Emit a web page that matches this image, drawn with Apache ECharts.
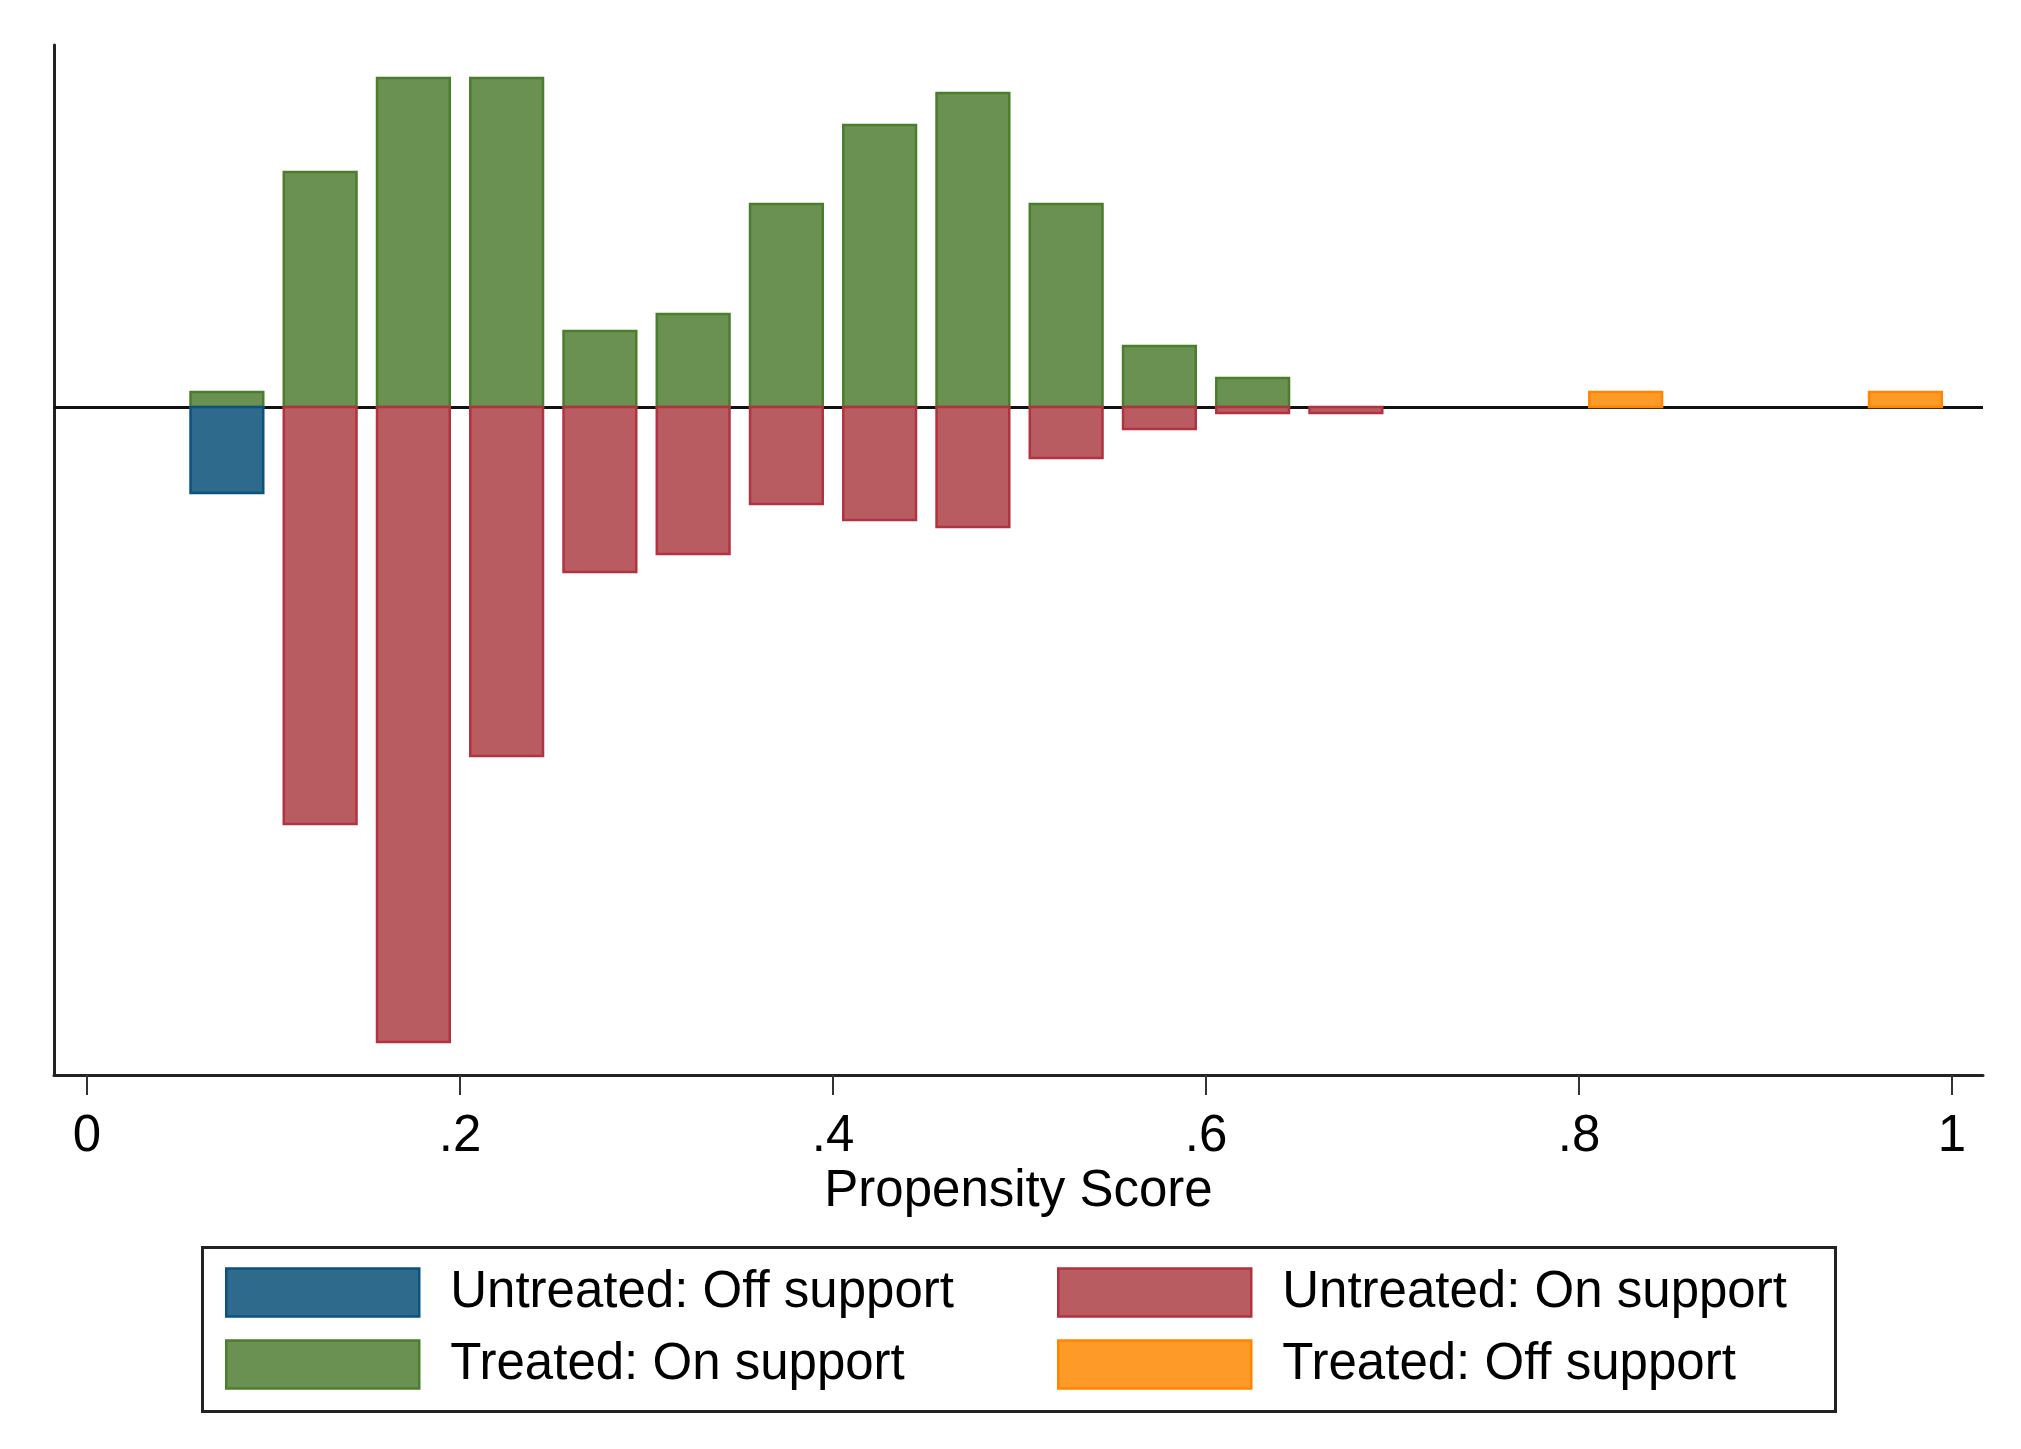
<!DOCTYPE html>
<html>
<head>
<meta charset="utf-8">
<script src="https://cdn.jsdelivr.net/npm/echarts@6/dist/echarts.min.js"></script>
<style>
html,body{margin:0;padding:0;background:#fff;}
#chart{width:2021px;height:1449px;}
</style>
</head>
<body>
<div id="chart"></div>
<script>
// Bin centers (propensity score), bin width 0.05
const binWidth = 0.05;
const treatedOnX = [0.075,0.125,0.175,0.225,0.275,0.325,0.375,0.425,0.475,0.525,0.575,0.625];
const treatedOnY = [0.15,2.35,3.29,3.29,0.76,0.93,2.03,2.82,3.14,2.03,0.61,0.29];
const untreatedOnX = [0.125,0.175,0.225,0.275,0.325,0.375,0.425,0.475,0.525,0.575,0.625,0.675];
const untreatedOnY = [-4.17,-6.35,-3.49,-1.65,-1.47,-0.97,-1.13,-1.20,-0.51,-0.22,-0.06,-0.06];
const untreatedOffX = [0.075];
const untreatedOffY = [-0.86];
const treatedOffX = [0.825,0.975];
const treatedOffY = [0.15,0.15];
const tickValues = [0,0.2,0.4,0.6,0.8,1];
const xAxisTitle = 'Propensity Score';
const legendNames = ['Untreated: Off support','Untreated: On support','Treated: On support','Treated: Off support'];

const colors = {
  'Untreated: Off support': {fill:'#2e6a8c', stroke:'#0b5280'},
  'Untreated: On support': {fill:'#b85c62', stroke:'#b2323f'},
  'Treated: On support': {fill:'#6b9152', stroke:'#4a7d2c'},
  'Treated: Off support': {fill:'#fe9a28', stroke:'#ff8600'}
};

function zip(xs, ys){ return xs.map((x,i)=>[x, ys[i]]); }

function makeSeries(name, xs, ys, z){
  const c = colors[name];
  return {
    name: name,
    type: 'custom',
    z: z,
    itemStyle: {color: c.fill, borderColor: c.stroke},
    data: zip(xs, ys),
    renderItem: function(params, api){
      const x = api.value(0), y = api.value(1);
      const half = binWidth * 0.39;
      const p0 = api.coord([x - half, 0]);
      const p1 = api.coord([x + half, y]);
      return {
        type: 'rect',
        shape: {x: p0[0], y: Math.min(p0[1], p1[1]), width: p1[0] - p0[0], height: Math.abs(p1[1] - p0[1])},
        style: {fill: c.fill, stroke: c.stroke, lineWidth: 2.5}
      };
    }
  };
}

function legendItem(name){
  const c = colors[name];
  return {name: name, itemStyle: {color: c.fill, borderColor: c.stroke, borderWidth: 2.5}};
}

const chart = echarts.init(document.getElementById('chart'));
const fontFamily = '"Liberation Sans", Arial, Helvetica, sans-serif';
const legendText = {fontSize: 51, color: '#000', fontFamily: fontFamily, lineHeight: 48, padding: [0,0,0,26]};

const option = {
  backgroundColor: '#ffffff',
  animation: false,
  grid: {left: 54, right: 38, top: 45, bottom: 374, containLabel: false},
  xAxis: {
    type: 'value',
    min: -0.0177,
    max: 1.0166,
    name: xAxisTitle,
    nameLocation: 'middle',
    nameGap: 88,
    nameTextStyle: {fontSize: 51, color: '#000', fontFamily: fontFamily},
    axisLine: {show: true, onZero: false, lineStyle: {color: '#222', width: 3}},
    axisTick: {show: true, length: 20, lineStyle: {color: '#333', width: 2}, customValues: tickValues},
    axisLabel: {
      fontSize: 51, color: '#000', fontFamily: fontFamily, margin: 36,
      customValues: tickValues,
      formatter: function(v){
        if (v === 0) return '0';
        if (v === 1) return '1';
        return String(+v.toFixed(2)).replace(/^0/, '');
      }
    },
    splitLine: {show: false}
  },
  yAxis: {
    type: 'value',
    min: -6.68,
    max: 3.62,
    axisLine: {show: true, onZero: false, lineStyle: {color: '#222', width: 3}},
    axisTick: {show: false},
    axisLabel: {show: false},
    splitLine: {show: false}
  },
  legend: [
    {
      orient: 'vertical',
      left: 220, top: 1262,
      itemWidth: 193, itemHeight: 48, itemGap: 21,
      icon: 'rect',
      data: [legendItem(legendNames[0]), legendItem(legendNames[2])],
      textStyle: legendText,
      selectedMode: false
    },
    {
      orient: 'vertical',
      left: 1052, top: 1262,
      itemWidth: 193, itemHeight: 48, itemGap: 21,
      icon: 'rect',
      data: [legendItem(legendNames[1]), legendItem(legendNames[3])],
      textStyle: legendText,
      selectedMode: false
    }
  ],
  graphic: [
    {type: 'rect', left: 200, top: 1245, shape: {width: 1633, height: 164}, style: {fill: 'none', stroke: '#222', lineWidth: 3}, z: 0}
  ],
  series: [
    makeSeries(legendNames[2], treatedOnX, treatedOnY, 3),
    makeSeries(legendNames[1], untreatedOnX, untreatedOnY, 3),
    makeSeries(legendNames[0], untreatedOffX, untreatedOffY, 3),
    Object.assign(makeSeries(legendNames[3], treatedOffX, treatedOffY, 3), {
      markLine: {
        silent: true, symbol: 'none', z: 2,
        label: {show: false},
        lineStyle: {color: '#111', width: 3, type: 'solid'},
        data: [{yAxis: 0}]
      }
    })
  ]
};
chart.setOption(option);
</script>
</body>
</html>
